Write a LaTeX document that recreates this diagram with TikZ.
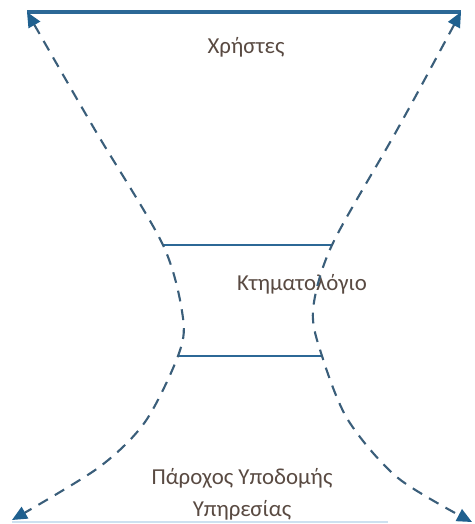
\documentclass[tikz,border=0pt]{standalone}
\usepackage{fontspec}
\setmainfont{Carlito}
\usetikzlibrary{arrows.meta,positioning}
\definecolor{lineblue}{RGB}{44,104,150}
\definecolor{dashblue}{RGB}{58,94,122}
\definecolor{tipblue}{RGB}{31,96,143}
\definecolor{textgray}{RGB}{89,74,66}
\definecolor{paleblue}{RGB}{205,225,240}

\begin{document}
\begin{tikzpicture}[x=0.02cm, y=-0.02cm,
        label/.style={text=textgray, font=\fontsize{13}{18}\selectfont, align=center, inner sep=0pt},
        bar/.style={draw=lineblue, line width=1.5pt},
        flow/.style={draw=dashblue, line width=1.2pt, dash pattern=on 6.2pt off 4.6pt,
            {Triangle[length=8.5pt,width=7.5pt,fill=tipblue,color=tipblue]}-{Triangle[length=8.5pt,width=7.5pt,fill=tipblue,color=tipblue]}}]
        \useasboundingbox (0,0) rectangle (475,524);

        \coordinate (tl) at (27,12);
        \coordinate (tr) at (461,12);
        \coordinate (bl) at (12,520);
        \coordinate (br) at (472,522);

        \coordinate (mtl) at (163,245);
        \coordinate (mtr) at (332,245);
        \coordinate (mbl) at (178,356);
        \coordinate (mbr) at (322,356);

        \coordinate (lup) at (95,130);
        \coordinate (lwaist) at (183,318);
        \coordinate (llow1) at (145,422);
        \coordinate (llow2) at (98,468);
        \coordinate (rup) at (397,130);
        \coordinate (rwaist) at (313,310);
        \coordinate (rlow1) at (348,420);
        \coordinate (rlow2) at (398,478);

        \coordinate (pl) at (12,522);
        \coordinate (pr) at (388,522);

        \node [label] (users) at (246,47) {Χρήστες};
        \node [label] (cadastre) at (302,284) {Κτηματολόγιο};
        \node [label] (provider) at (242,494) {Πάροχος Υποδομής\\Υπηρεσίας};

        \draw [draw=paleblue, line width=1.4pt] (pl) -- (pr);
        \draw [bar, line width=2pt] (tl) -- (tr);
        \draw [bar] (mtl) -- (mtr);
        \draw [bar] (mbl) -- (mbr);

        \draw [flow] plot[smooth, tension=0.5] coordinates {(tl) (lup) (mtl) (lwaist) (mbl) (llow1) (llow2) (bl)};
        \draw [flow] plot[smooth, tension=0.5] coordinates {(tr) (rup) (mtr) (rwaist) (mbr) (rlow1) (rlow2) (br)};
    \end{tikzpicture}
\end{document}
